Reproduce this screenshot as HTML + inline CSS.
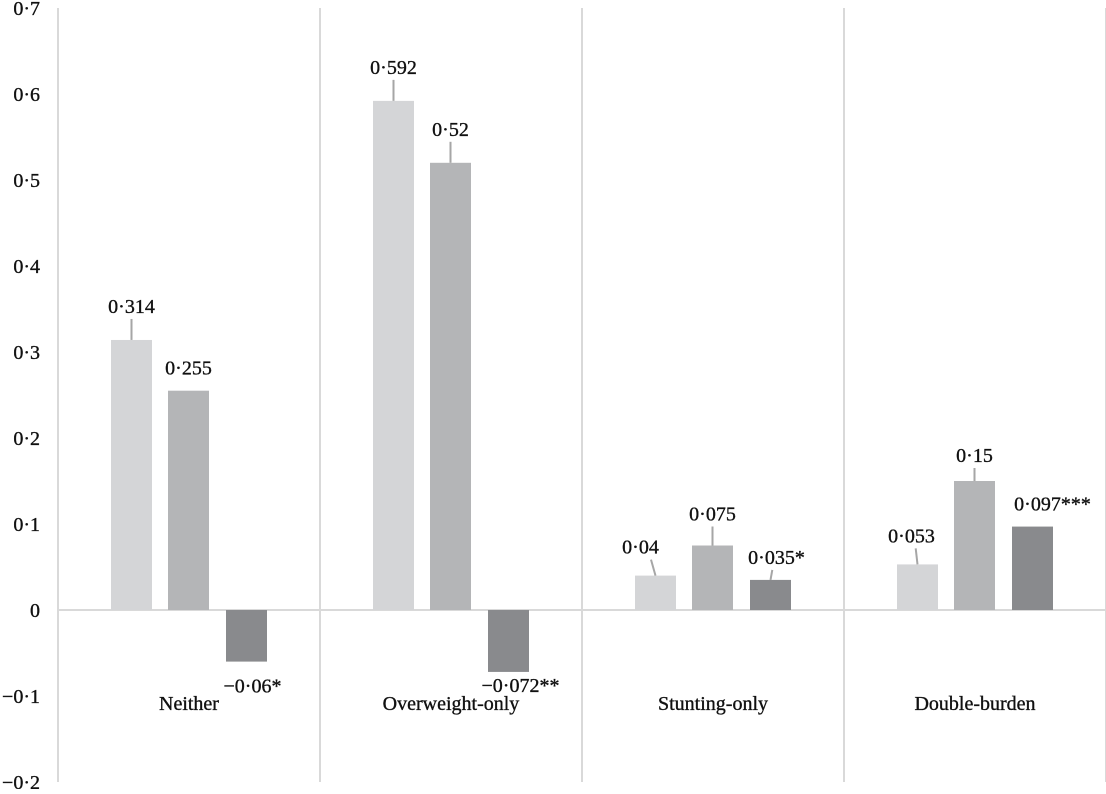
<!DOCTYPE html>
<html><head><meta charset="utf-8"><style>
html,body{margin:0;padding:0;background:#fff;}
svg text{font-family:"Liberation Serif",serif;font-size:20px;fill:#111;stroke:#111;stroke-width:0.35px;}
</style></head><body>
<svg id="chart" width="1106" height="789" xmlns="http://www.w3.org/2000/svg"></svg>
<script>
const categories = ["Neither","Overweight-only","Stunting-only","Double-burden"];
const series1 = [0.314, 0.592, 0.04, 0.053];
const series2 = [0.255, 0.52, 0.075, 0.15];
const series3 = [-0.06, -0.072, 0.035, 0.097];
const labels1 = ["0·314","0·592","0·04","0·053"];
const labels2 = ["0·255","0·52","0·075","0·15"];
const labels3 = ["−0·06*","−0·072**","0·035*","0·097***"];
const yTicks = [0.7,0.6,0.5,0.4,0.3,0.2,0.1,0,-0.1,-0.2];
const yTickLabels = ["0·7","0·6","0·5","0·4","0·3","0·2","0·1","0","−0·1","−0·2"];

const NS="http://www.w3.org/2000/svg";
const svg=document.getElementById('chart');
const x0=58, catW=262, y0=610, k=860;
const y=v=>y0-v*k;
function el(t,a){const e=document.createElementNS(NS,t);for(const n in a)e.setAttribute(n,a[n]);svg.appendChild(e);return e;}
for(let i=0;i<=categories.length;i++){
  const g=el('line',{x1:x0+i*catW,x2:x0+i*catW,y1:y(0.7),y2:y(-0.2),stroke:'#d9d9d9','stroke-width':2});
  
  
}
const z=el('line',{x1:x0,x2:1106,y1:y(0),y2:y(0),stroke:'#d9d9d9','stroke-width':2});


yTicks.forEach((v,i)=>{
  const t=el('text',{x:40,y:y(v)+7,'text-anchor':'end'});t.textContent=yTickLabels[i];
  
  
});
const colors=['#d4d5d7','#b4b5b7','#898a8d'];
const barOff=[53,110,168], bw=41;
const lay=[[[27,1,0],[16,0,0],[-31,0,6]],[[27,1,0],[27,1,0],[-20,0,12]],[[22,1,-15],[25,1,0],[16,1,6]],[[22,1,-6],[19,1,0],[16,0,20]]];
const allS=[series1,series2,series3], allL=[labels1,labels2,labels3];
categories.forEach((c,ci)=>{
  const cx=x0+ci*catW;
  allS.forEach((s,si)=>{
    const v=s[ci], bx=cx+barOff[si];
    const top=Math.min(y(v),y0), h=Math.abs(y(v)-y0);
    const r=el('rect',{x:bx,y:top,width:bw,height:h,fill:colors[si]});
    
    
    const L=lay[ci][si], mid=bx+bw/2;
    const ty=y(v)-L[0];
    if(v>=0 && L[1]){const ln=el('line',{x1:mid+L[2]*0.3,y1:ty+6,x2:mid,y2:y(v),stroke:'#a6a6a6','stroke-width':2});
      
      }
    const t=el('text',{x:mid+L[2],y:ty,'text-anchor':'middle'});t.textContent=allL[si][ci];
    
    
  });
  const t=el('text',{x:cx+catW/2,y:710,'text-anchor':'middle'});t.textContent=c;
  
  
});
</script>
</body></html>
